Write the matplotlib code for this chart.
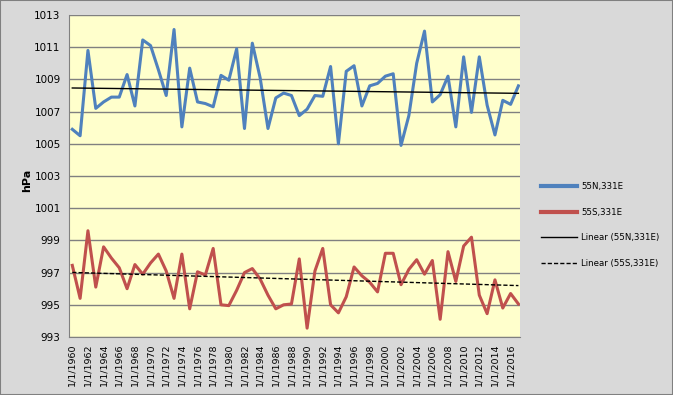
import numpy as np
import matplotlib
matplotlib.use("Agg")
import matplotlib.pyplot as plt

years = list(range(1960, 2018))

# 55N,331E mean sea level pressure (hPa)
n_vals = [1005.9, 1005.5, 1010.8, 1007.2, 1007.6, 1007.9, 1007.9, 1009.3, 1007.35, 1011.45,
          1011.1, 1009.6, 1008.0, 1012.1, 1006.05, 1009.7, 1007.6, 1007.5, 1007.3, 1009.25,
          1008.95, 1010.9, 1005.95, 1011.25, 1009.1, 1005.95, 1007.85, 1008.15, 1008.0, 1006.75,
          1007.15, 1008.0, 1007.95, 1009.8, 1005.0, 1009.5, 1009.85, 1007.35, 1008.6, 1008.75,
          1009.2, 1009.35, 1004.9, 1006.75, 1010.0, 1012.0, 1007.6, 1008.05, 1009.2, 1006.05,
          1010.4, 1006.95, 1010.4, 1007.4, 1005.55, 1007.7, 1007.45, 1008.6]

# 55S,331E
s_vals = [997.45, 995.4, 999.6, 996.1, 998.6, 997.9, 997.3, 996.0, 997.5, 996.9,
          997.6, 998.15, 997.1, 995.4, 998.15, 994.75, 997.05, 996.85, 998.5, 995.0,
          994.95, 995.9, 997.0, 997.25, 996.6, 995.6, 994.75, 995.0, 995.05, 997.85,
          993.55, 997.1, 998.5, 995.0, 994.5, 995.5, 997.35, 996.8, 996.4, 995.8,
          998.2, 998.2, 996.25, 997.2, 997.8, 996.9, 997.75, 994.1, 998.3, 996.45,
          998.65, 999.2, 995.6, 994.45, 996.55, 994.8, 995.7, 995.05]

x = np.array(years, dtype=float)
n_fit = np.polyval(np.polyfit(x, n_vals, 1), x)
s_fit = np.polyval(np.polyfit(x, s_vals, 1), x)

fig = plt.figure(figsize=(6.73, 3.95), dpi=100, facecolor="#D9D9D9")
ax = fig.add_axes([69 / 673, 1 - 337 / 395, (520 - 69) / 673, (337 - 15) / 395])
ax.set_facecolor("#FFFFCC")

ax.plot(x, n_vals, color="#4F81BD", lw=2.2, label="55N,331E")
ax.plot(x, s_vals, color="#C0504D", lw=2.2, label="55S,331E")
ax.plot(x, n_fit, color="black", lw=1.0, label="Linear (55N,331E)")
ax.plot(x, s_fit, color="black", lw=1.0, ls=(0, (3, 1.5)), label="Linear (55S,331E)")

ax.set_ylim(993, 1013)
ax.set_yticks(range(993, 1014, 2))
ax.set_xlim(1959.58, 2017.2)
ax.set_xticks(years[::2])
ax.set_xticklabels([f"1/1/{y}" for y in years[::2]], rotation=90, fontsize=6.8)
ax.tick_params(axis="y", labelsize=7.5, length=0, pad=6)
ax.tick_params(axis="x", length=0, pad=5)
ax.grid(axis="y", color="#808080", lw=1.0)
ax.set_axisbelow(True)
for side in ["top", "right"]:
    ax.spines[side].set_visible(False)
ax.spines["left"].set_color("#808080")
ax.spines["bottom"].set_color("#808080")

fig.text(27 / 673, 1 - 180 / 395, "hPa", rotation=90, fontsize=8, fontweight="bold",
         ha="center", va="center")

leg = ax.legend(loc="center left", bbox_to_anchor=(533 / 673, 1 - 225 / 395),
                bbox_transform=fig.transFigure, frameon=False, fontsize=6.2,
                handlelength=4.2, labelspacing=1.95, handletextpad=0.5)
for h in leg.get_lines()[:2]:
    h.set_linewidth(3)

fig.patches.append(plt.Rectangle((0, 0), 1, 1, transform=fig.transFigure,
                                 fill=False, edgecolor="#808080", lw=1.5))

fig.savefig("out.png", dpi=100, facecolor=fig.get_facecolor())
